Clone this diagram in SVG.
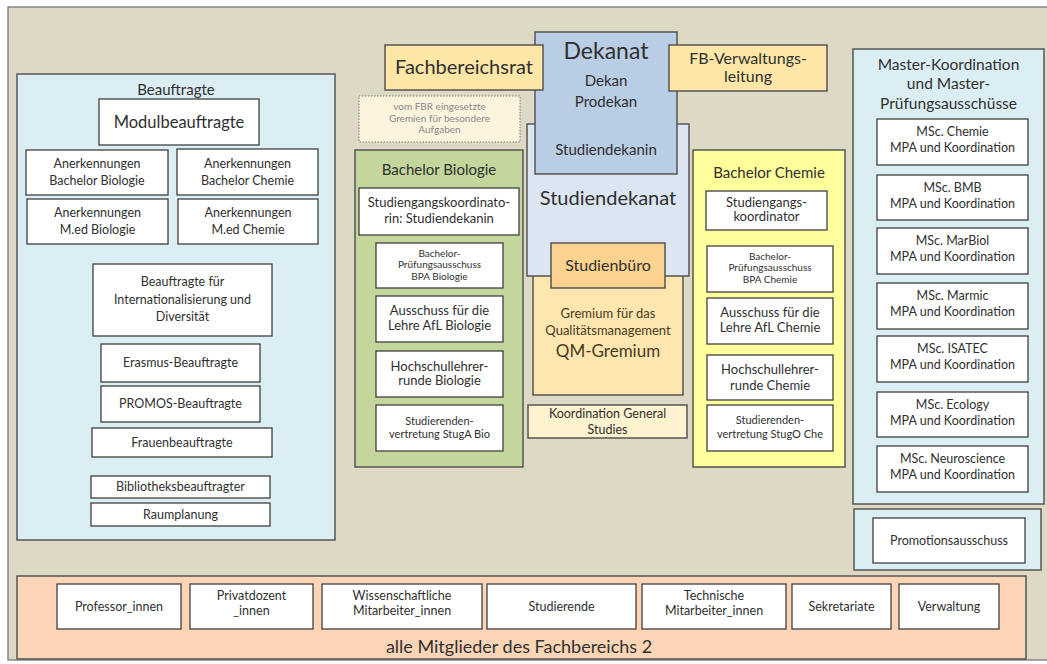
<svg xmlns="http://www.w3.org/2000/svg" width="1047" height="664" viewBox="0 0 1047 664">
<style>
text{font-family:Lato,"Open Sans","Liberation Sans",sans-serif;fill:#303030;text-anchor:middle}
.box{fill:#fff;stroke:#404040;stroke-width:1.3}
.pan{stroke:#555;stroke-width:1.5}
.f16{font-size:16px}.f15{font-size:15px}.f13{font-size:13px}.f12{font-size:12.5px}.f11{font-size:11px}.f10{font-size:10px}
</style>
<rect x="8" y="7" width="1045" height="653" fill="#ddd9c4" stroke="#777" stroke-width="1.3"/>

<g id="beauftragte">
<rect class="pan" x="17" y="74" width="318" height="466" fill="#dbeef3"/>
<text x="176" y="95" font-size="15">Beauftragte</text>
<g id="modul"><rect class="box" x="99" y="99" width="160" height="46"/><text x="179" y="128" font-size="16.5">Modulbeauftragte</text></g>
<g id="anerk-bb"><rect class="box" x="26" y="150" width="142" height="45"/><text class="f12" x="97" y="168">Anerkennungen</text><text class="f12" x="97" y="185">Bachelor Biologie</text></g>
<g id="anerk-bc"><rect class="box" x="177" y="149" width="141" height="46"/><text class="f12" x="247.5" y="168">Anerkennungen</text><text class="f12" x="247.5" y="185">Bachelor Chemie</text></g>
<g id="anerk-mb"><rect class="box" x="27" y="199" width="141" height="45"/><text class="f12" x="97.5" y="217">Anerkennungen</text><text class="f12" x="97.5" y="234">M.ed Biologie</text></g>
<g id="anerk-mc"><rect class="box" x="178" y="199" width="140" height="45"/><text class="f12" x="248" y="217">Anerkennungen</text><text class="f12" x="248" y="234">M.ed Chemie</text></g>
<g id="intl"><rect class="box" x="93" y="264" width="179" height="72"/><text class="f12" x="182.5" y="286">Beauftragte für</text><text class="f12" x="182.5" y="304">Internationalisierung und</text><text class="f12" x="182.5" y="321">Diversität</text></g>
<g id="erasmus"><rect class="box" x="101" y="344" width="159" height="38"/><text class="f12" x="180.5" y="367">Erasmus-Beauftragte</text></g>
<g id="promos"><rect class="box" x="101" y="386" width="159" height="36"/><text class="f12" x="180.5" y="408">PROMOS-Beauftragte</text></g>
<g id="frauen"><rect class="box" x="92" y="428" width="180" height="29"/><text class="f12" x="182" y="447">Frauenbeauftragte</text></g>
<g id="biblio"><rect class="box" x="91" y="476" width="179" height="22"/><text class="f12" x="180.5" y="491">Bibliotheksbeauftragter</text></g>
<g id="raum"><rect class="box" x="91" y="503" width="179" height="23"/><text class="f12" x="180.5" y="519">Raumplanung</text></g>
</g>

<g id="fbr-gremien">
<rect x="359" y="96" width="161" height="46" fill="#fcf3dd" stroke="#777" stroke-width="1" stroke-dasharray="1.5,1.5"/>
<text class="f10" x="439.5" y="110" style="fill:#8a8a8a">vom FBR eingesetzte</text>
<text class="f10" x="439.5" y="122" style="fill:#8a8a8a">Gremien für besondere</text>
<text class="f10" x="439.5" y="133" style="fill:#8a8a8a">Aufgaben</text>
</g>

<g id="bachelor-bio">
<rect class="pan" x="355" y="150" width="168" height="317" fill="#c3d69b"/>
<text x="439" y="175" font-size="15">Bachelor Biologie</text>
<g id="sgk-bio"><rect class="box" x="359" y="188" width="160" height="47"/><text class="f13" x="439" y="207">Studiengangskoordinato-</text><text class="f13" x="439" y="223">rin: Studiendekanin</text></g>
<g id="bpa-bio"><rect class="box" x="376" y="243" width="127" height="45"/><text class="f10" x="439.5" y="257">Bachelor-</text><text class="f10" x="439.5" y="268">Prüfungsausschuss</text><text class="f10" x="439.5" y="280">BPA Biologie</text></g>
<g id="afl-bio"><rect class="box" x="376" y="296" width="127" height="46"/><text class="f13" x="439.5" y="315">Ausschuss für die</text><text class="f13" x="439.5" y="330">Lehre AfL Biologie</text></g>
<g id="hsl-bio"><rect class="box" x="376" y="351" width="127" height="46"/><text class="f13" x="439.5" y="371">Hochschullehrer-</text><text class="f13" x="439.5" y="385">runde Biologie</text></g>
<g id="stuga"><rect class="box" x="376" y="405" width="127" height="46"/><text class="f11" x="439.5" y="425">Studierenden-</text><text class="f11" x="439.5" y="438">vertretung StugA Bio</text></g>
</g>

<g id="qm">
<rect class="pan" x="533" y="265" width="150" height="130" fill="#fde6b0"/>
<text class="f13" x="608" y="318" style="fill:#4a3a20">Gremium für das</text>
<text class="f13" x="608" y="335" style="fill:#4a3a20">Qualitätsmanagement</text>
<text x="608" y="357" font-size="17" style="fill:#4a3a20">QM-Gremium</text>
</g>

<g id="studiendekanat">
<rect class="pan" x="527" y="124" width="162" height="152" fill="#dce6f2"/>
<text x="608" y="205" font-size="20">Studiendekanat</text>
</g>

<g id="dekanat">
<rect class="pan" x="535" y="32" width="142" height="142" fill="#b9cde5"/>
<text x="606" y="59" font-size="23">Dekanat</text>
<text class="f15" x="606" y="86">Dekan</text>
<text class="f15" x="606" y="107">Prodekan</text>
<text class="f15" x="606" y="155">Studiendekanin</text>
</g>

<g id="fachbereichsrat">
<rect class="pan" x="385" y="45" width="158" height="45" fill="#fee7a6"/>
<text x="464" y="74" font-size="20">Fachbereichsrat</text>
</g>

<g id="fb-verwaltung">
<rect class="pan" x="669" y="45" width="158" height="46" fill="#fee7a6"/>
<text class="f16" x="748" y="64">FB-Verwaltungs-</text>
<text class="f16" x="748" y="82">leitung</text>
</g>

<g id="studienbuero">
<rect class="pan" x="551" y="243" width="114" height="45" fill="#fbd28e"/>
<text class="f16" x="608" y="271">Studienbüro</text>
</g>

<g id="general-studies">
<rect class="pan" x="528" y="405" width="159" height="33" fill="#fef2cf"/>
<text class="f12" x="607.5" y="418">Koordination General</text>
<text class="f12" x="607.5" y="434">Studies</text>
</g>

<g id="bachelor-chem">
<rect class="pan" x="693" y="150" width="152" height="317" fill="#ffff9c"/>
<text x="769" y="178" font-size="15">Bachelor Chemie</text>
<g id="sgk-chem"><rect class="box" x="706" y="191" width="121" height="39"/><text class="f13" x="766.5" y="207">Studiengangs-</text><text class="f13" x="766.5" y="221">koordinator</text></g>
<g id="bpa-chem"><rect class="box" x="707" y="246" width="126" height="46"/><text class="f10" x="770" y="260">Bachelor-</text><text class="f10" x="770" y="271">Prüfungsausschuss</text><text class="f10" x="770" y="283">BPA Chemie</text></g>
<g id="afl-chem"><rect class="box" x="707" y="298" width="126" height="46"/><text class="f13" x="770" y="317">Ausschuss für die</text><text class="f13" x="770" y="332">Lehre AfL  Chemie</text></g>
<g id="hsl-chem"><rect class="box" x="707" y="355" width="126" height="45"/><text class="f13" x="770" y="374">Hochschullehrer-</text><text class="f13" x="770" y="390">runde Chemie</text></g>
<g id="stugo"><rect class="box" x="707" y="405" width="126" height="46"/><text class="f11" x="770" y="424">Studierenden-</text><text class="f11" x="770" y="438">vertretung StugO Che</text></g>
</g>

<g id="master">
<rect class="pan" x="853" y="49" width="191" height="455" fill="#dbeef3"/>
<text x="948.5" y="70" font-size="15.5">Master-Koordination</text>
<text x="948.5" y="89" font-size="15.5">und Master-</text>
<text x="948.5" y="109" font-size="15.5">Prüfungsausschüsse</text>
<g id="msc-chem"><rect class="box" x="877" y="119" width="151" height="46"/><text class="f12" x="952.5" y="136">MSc. Chemie</text><text class="f12" x="952.5" y="152">MPA und Koordination</text></g>
<g id="msc-bmb"><rect class="box" x="877" y="175" width="151" height="45"/><text class="f12" x="952.5" y="192">MSc. BMB</text><text class="f12" x="952.5" y="208">MPA und Koordination</text></g>
<g id="msc-marbiol"><rect class="box" x="877" y="228" width="151" height="46"/><text class="f12" x="952.5" y="245">MSc. MarBiol</text><text class="f12" x="952.5" y="261">MPA und Koordination</text></g>
<g id="msc-marmic"><rect class="box" x="877" y="283" width="151" height="46"/><text class="f12" x="952.5" y="300">MSc. Marmic</text><text class="f12" x="952.5" y="316">MPA und Koordination</text></g>
<g id="msc-isatec"><rect class="box" x="877" y="336" width="151" height="46"/><text class="f12" x="952.5" y="353">MSc. ISATEC</text><text class="f12" x="952.5" y="369">MPA und Koordination</text></g>
<g id="msc-ecology"><rect class="box" x="877" y="392" width="151" height="45"/><text class="f12" x="952.5" y="409">MSc. Ecology</text><text class="f12" x="952.5" y="425">MPA und Koordination</text></g>
<g id="msc-neuro"><rect class="box" x="877" y="446" width="151" height="46"/><text class="f12" x="952.5" y="463">MSc. Neuroscience</text><text class="f12" x="952.5" y="479">MPA und Koordination</text></g>
</g>

<g id="promotion">
<rect class="pan" x="854" y="509" width="187" height="61" fill="#dbeef3"/>
<rect class="box" x="873" y="518" width="152" height="45"/>
<text class="f12" x="949" y="545">Promotionsausschuss</text>
</g>

<g id="mitglieder">
<rect class="pan" x="17" y="576" width="1009" height="83" fill="#fbd5b5"/>
<g id="prof"><rect class="box" x="57" y="584" width="124" height="45"/><text class="f12" x="119" y="611">Professor_innen</text></g>
<g id="pd"><rect class="box" x="190" y="584" width="123" height="45"/><text class="f12" x="251.5" y="600">Privatdozent</text><text class="f12" x="251.5" y="615">_innen</text></g>
<g id="wimi"><rect class="box" x="322" y="584" width="160" height="45"/><text class="f12" x="402" y="600">Wissenschaftliche</text><text class="f12" x="402" y="615">Mitarbeiter_innen</text></g>
<g id="stud"><rect class="box" x="487" y="584" width="149" height="45"/><text class="f12" x="561.5" y="611">Studierende</text></g>
<g id="tech"><rect class="box" x="642" y="584" width="144" height="45"/><text class="f12" x="714" y="600">Technische</text><text class="f12" x="714" y="615">Mitarbeiter_innen</text></g>
<g id="sekr"><rect class="box" x="792" y="584" width="99" height="45"/><text class="f12" x="841.5" y="611">Sekretariate</text></g>
<g id="verw"><rect class="box" x="899" y="584" width="100" height="45"/><text class="f12" x="949" y="611">Verwaltung</text></g>
<text x="519" y="653" font-size="18">alle Mitglieder des Fachbereichs 2</text>
</g>

<g id="connectors"/>
</svg>
